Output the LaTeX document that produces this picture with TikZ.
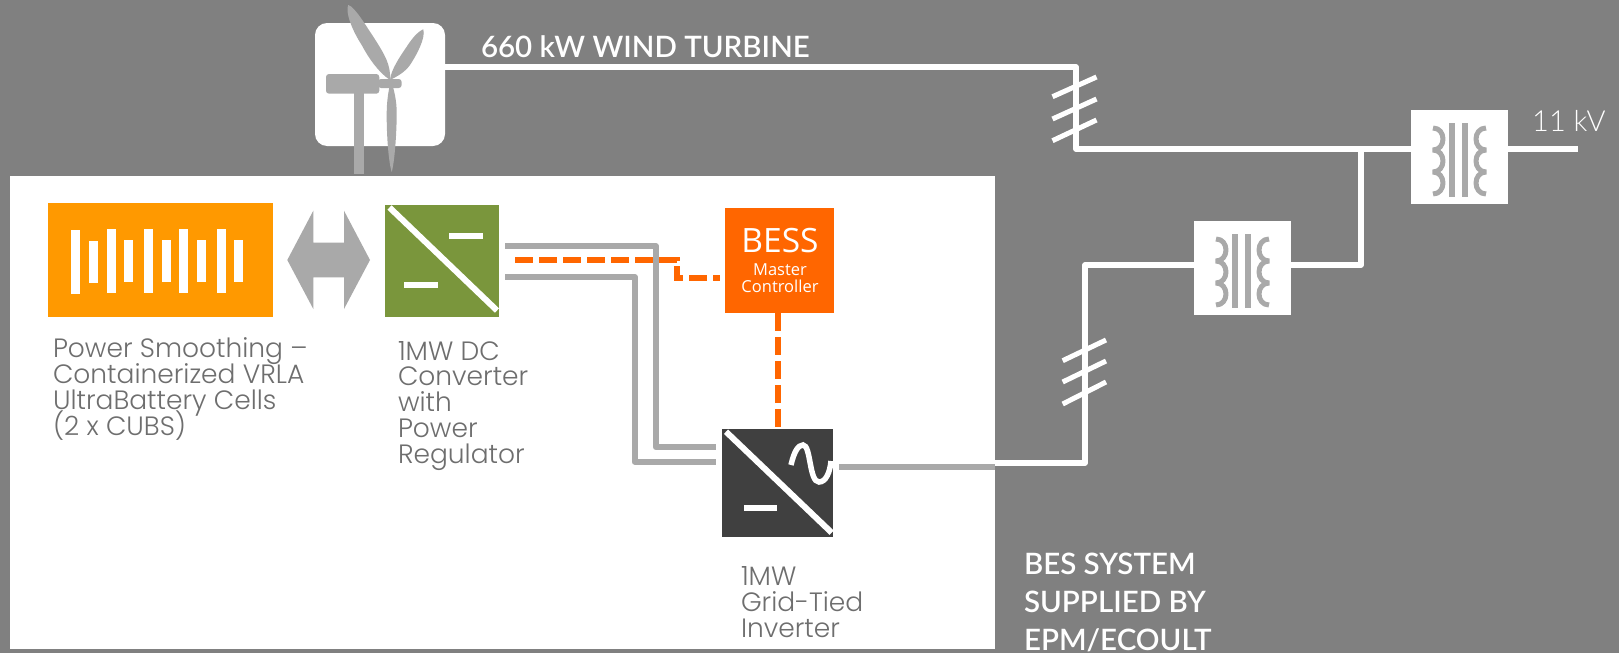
\documentclass[tikz,border=0pt]{standalone}
\usepackage{fontspec}
\setmainfont{Poppins}[UprightFont=* Light]
\newfontfamily\headfont{Lato Semibold}
\newfontfamily\thinfont{Lato Light}
\newfontfamily\bessfont{Open Sans}
\definecolor{bgc}{HTML}{808080}
\definecolor{wirec}{HTML}{A9A9A9}
\definecolor{battc}{HTML}{FF9900}
\definecolor{convc}{HTML}{7A963C}
\definecolor{bessc}{HTML}{FF6600}
\definecolor{invc}{HTML}{404040}
\definecolor{labelc}{HTML}{6E6E6E}
\tikzset{
  plainbox/.style={rectangle,draw=none,inner sep=0pt,outer sep=0pt},
  wwire/.style={draw=white,line width=5.5pt,line join=round},
  gwire/.style={draw=wirec,line width=6pt,line join=round},
  owire/.style={draw=bessc,line width=6pt,dash pattern=on 18pt off 6pt},
  tick/.style={draw=white,line width=5pt},
  coil/.style={draw=wirec,line width=5pt,line join=bevel},
  lbl/.style={inner sep=0pt,outer sep=0pt,align=left,text=labelc,font=\fontsize{26.5}{25.8}\selectfont},
  head/.style={inner sep=0pt,outer sep=0pt,align=left,text=white,font=\headfont\fontsize{29.5}{38}\selectfont},
}
\newcommand{\xfmrsym}[2]{%
  \begin{scope}[shift={(#1,#2)}]
    \fill[wirec] (37.9,13) rectangle (43.8,86.7);
    \fill[wirec] (51,13) rectangle (56.9,86.7);
    \draw[coil] (22,18) .. controls (35.3,18) and (35.3,40) .. (22,40)
                .. controls (35.3,40) and (35.3,62) .. (22,62)
                .. controls (35.3,62) and (35.3,84) .. (22,84);
    \draw[coil] (75,18) .. controls (61.7,18) and (61.7,40) .. (75,40)
                .. controls (61.7,40) and (61.7,62) .. (75,62)
                .. controls (61.7,62) and (61.7,84) .. (75,84);
  \end{scope}}
\begin{document}
\begin{tikzpicture}[x=1pt,y=-1pt]
\lineskiplimit=-100pt
\useasboundingbox (0,0) rectangle (1619,653);
\clip (0,0) rectangle (1619,653);
\fill[bgc] (0,0) rectangle (1619,653);
\node[plainbox,fill=white,minimum width=985pt,minimum height=473pt] (panel) at (502.5,412.5) {};

% coordinates
\coordinate (jA) at (1076,67);
\coordinate (jB) at (1076,149);
\coordinate (jC) at (1361,149);
\coordinate (jD) at (1361,265);
\coordinate (jE) at (1085,265);
\coordinate (jF) at (1085,463);
\coordinate (hv) at (1578,149);
\coordinate (gA) at (655.7,246);
\coordinate (gB) at (655.7,447);
\coordinate (gC) at (634.7,277);
\coordinate (gD) at (634.7,461.7);
\coordinate (oA) at (515,260);
\coordinate (oB) at (676.7,260);
\coordinate (oC) at (676.7,277.7);
\coordinate (gE) at (505,246);
\coordinate (gF) at (505,277);
\coordinate (gG) at (716,447);
\coordinate (gH) at (716,461.7);
\coordinate (gI) at (839,467);

% turbine box
\node[plainbox,fill=white,rounded corners=12pt,minimum width=130pt,minimum height=123pt] (turbine) at (380,84.5) {};
% turbine figure
\fill[wirec] (354.3,90) rectangle (364,174);
\fill[wirec,rounded corners=3pt] (326,74) rectangle (379.3,93.7);
\fill[wirec,rounded corners=3pt] (378,79) rectangle (401.7,88);
\fill[wirec] (348.3,5) .. controls (345,12) and (352,30) .. (361.7,45)
   .. controls (368,57) and (378,72) .. (390,80)
   .. controls (391,65) and (385,55) .. (373.3,36.7)
   .. controls (366,26) and (355,7) .. (348.3,5) -- cycle;
\fill[wirec] (423.3,29.3) .. controls (417,32) and (411,40) .. (406.7,46.7)
   .. controls (399,58) and (391,70) .. (390,80)
   .. controls (398,76) and (405,72) .. (410,65)
   .. controls (416,56) and (426,38) .. (423.3,29.3) -- cycle;
\fill[wirec] (391.7,172) .. controls (388,160) and (386.5,130) .. (386.7,113)
   .. controls (386.7,100) and (389,88) .. (391,80)
   .. controls (394,90) and (396.7,100) .. (396.7,113)
   .. controls (396.7,130) and (395,160) .. (391.7,172) -- cycle;

% transformers
\node[plainbox,fill=white,minimum width=97pt,minimum height=94pt] (xfa) at (1459.5,157) {};
\node[plainbox,fill=white,minimum width=97pt,minimum height=94pt] (xfb) at (1242.5,268) {};

% white wires
\draw[wwire] (turbine.east |- jA) -- (jA) -- (jB) -- (xfa.west |- jB);
\draw[wwire] (xfa.east |- hv) -- (hv);
\draw[wwire] (jC) -- (jD) -- (xfb.east |- jD);
\draw[wwire] (xfb.west |- jE) -- (jE) -- (jF) -- (panel.east |- jF);
\xfmrsym{1411}{110}
\xfmrsym{1194}{221}

% ticks
\draw[tick] (1052.5,96.7) -- (1096.5,77);
\draw[tick] (1052.5,119) -- (1096.5,99);
\draw[tick] (1052.5,140.7) -- (1096.5,120);
\draw[tick] (1062.7,360.7) -- (1106,340);
\draw[tick] (1062.7,382) -- (1106,361);
\draw[tick] (1062.7,404) -- (1106,382);

% battery
\node[plainbox,fill=battc,minimum width=225pt,minimum height=114pt] (batt) at (160.5,260) {};
\foreach \xa/\ya/\yb in {123/120/312,177/153/279,231/117/309,282/150/276,342/117/309,396/150/276,447/117/309,501/150/276,561/117/309,612/150/276}
  \fill[white] ({30+\xa/3},{190+\ya/3}) rectangle ({30+\xa/3+9},{190+\yb/3});
% double arrow
\fill[wirec] (287.3,260) -- (313.3,210.7) -- (313.3,242.7) -- (344,242.7) -- (344,210.7) -- (370,260)
  -- (344,309) -- (344,277.3) -- (313.3,277.3) -- (313.3,309) -- cycle;

% converter
\node[plainbox,fill=convc,minimum width=114.3pt,minimum height=111.4pt] (conv) at (442.2,261) {};
\draw[white,line width=6pt] (389.5,207.5) -- (497,310.5);
\fill[white] (449,233.3) rectangle (482.7,239.3);
\fill[white] (404.3,282) rectangle (438,288);

% controller
\node[plainbox,fill=bessc,minimum width=109pt,minimum height=105pt,text=white,align=center] (bess) at (779.8,260.5) {};
\node[inner sep=0pt,text=white,font=\bessfont\fontsize{33.5}{34}\selectfont] (besst) at (780,241) {BESS};
\node[inner sep=0pt,text=white,align=center,font=\bessfont\fontsize{16.5}{17.5}\selectfont] (bessu) at (780,278) {Master\\Controller};

% inverter
\node[plainbox,fill=invc,minimum width=111.3pt,minimum height=108pt] (inv) at (777.7,482.7) {};
\draw[white,line width=6pt] (726,431.7) -- (831.7,532.7);
\fill[white] (744,504.7) rectangle (776.7,510.7);
\draw[white,line width=5.5pt] (791,465) .. controls (794,452) and (798,445) .. (803,445)
  .. controls (811,445) and (809,482) .. (819,482) .. controls (826,482) and (830,472) .. (831,461);

% grey wires
\draw[gwire] (gE) -- (gA) -- (gB) -- (gG);
\draw[gwire] (gF) -- (gC) -- (gD) -- (gH);
\draw[gwire] (gI) -- (panel.east |- gI);

% orange dashed
\draw[owire,shorten >=5pt] (oA) -- (oB) -- (oC) -- (bess.west |- oC);
\draw[owire] (bess.south -| inv.north) -- (inv.north);

% labels (anchor = baseline of the last line)
\node[lbl,anchor=base west] (l1) at (53,435) {Power Smoothing –\\Containerized VRLA\\UltraBattery Cells\\(2 x CUBS)};
\node[lbl,anchor=base west] (l2) at (398,463.3) {1MW DC\\Converter\\with\\Power\\Regulator};
\node[lbl,anchor=base west] (l3) at (741,637.3) {1MW\\Grid-Tied\\Inverter};
\node[head,anchor=base west] (h1) at (481,57) {660 kW WIND TURBINE};
\node[head,anchor=base west] (h2) at (1024,650.7) {BES SYSTEM\\SUPPLIED BY\\EPM/ECOULT};
\node[inner sep=0pt,text=white,anchor=base west,font=\thinfont\fontsize{29}{29}\selectfont] (kv) at (1532,131.7) {11 kV};
\end{tikzpicture}
\end{document}
